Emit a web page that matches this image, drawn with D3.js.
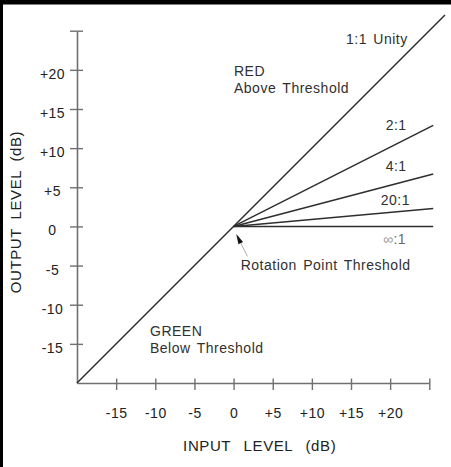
<!DOCTYPE html>
<html><head><meta charset="utf-8">
<script src="https://cdn.jsdelivr.net/npm/d3@7"></script>
<style>body{margin:0;background:#fff}svg{display:block}text{font-family:"Liberation Sans",Arial,Helvetica,sans-serif}</style>
</head><body><svg id="c" width="451" height="467"></svg>
<script>
// ---- data ----
const tickValues = [-15, -10, -5, 0, 5, 10, 15, 20, 25];
const tickLabels = ["-15", "-10", "-5", "0", "+5", "+10", "+15", "+20", ""];
const ratioLabels = ["2:1", "4:1", "20:1", ":1"];
const ratioOutputs = [12.9, 6.7, 2.3, 0];   // output level (dB) at line end
const lineEndInput = 25.5;                    // input level (dB) at line end
const unityLine = [[-20, -20], [27, 27]];
const thresholdPoint = [0, 0];

// ---- setup ----
const svg = d3.select("#c");
const x = d3.scaleLinear().domain([-20, 25]).range([77, 429.3]);
const y = d3.scaleLinear().domain([-20, 25]).range([383, 30.7]);
const axisColor = "#707070", inkColor = "#2e2e2e", textColor = "#303030";

// frame (top and left black edges)
svg.append("rect").attr("x", 0).attr("y", 0).attr("width", 451).attr("height", 4.5).attr("fill", "#000");
svg.append("rect").attr("x", 0).attr("y", 0).attr("width", 3).attr("height", 467).attr("fill", "#000");

// ---- axes ----
const gx = svg.append("g").attr("transform", `translate(0,${y(-20)})`)
  .call(d3.axisBottom(x).tickValues(tickValues).tickFormat((d, i) => tickLabels[i]).tickSizeOuter(0));
gx.attr("font-family", null).attr("font-size", null);
gx.select(".domain").attr("stroke", axisColor).attr("stroke-width", 1.6);
gx.selectAll(".tick line").attr("y1", -4.5).attr("y2", 7).attr("stroke", axisColor).attr("stroke-width", 1.4);
gx.selectAll(".tick text").attr("y", 35.3).attr("dy", 0).attr("font-size", 14)
  .attr("fill", "#222").attr("letter-spacing", 0.5);

const gy = svg.append("g").attr("transform", `translate(${x(-20)},0)`)
  .call(d3.axisLeft(y).tickValues(tickValues).tickFormat((d, i) => tickLabels[i]).tickSizeOuter(0));
gy.attr("font-family", null).attr("font-size", null);
gy.select(".domain").attr("stroke", axisColor).attr("stroke-width", 1.6);
gy.selectAll(".tick line").attr("x1", 6).attr("x2", -7).attr("stroke", axisColor).attr("stroke-width", 1.4);
gy.selectAll(".tick text").attr("x", -24.5).attr("text-anchor", "middle").attr("y", 8.5).attr("dy", 0)
  .attr("font-size", 14).attr("fill", "#222").attr("letter-spacing", 0.5);

// axis titles
svg.append("text").attr("x", 259.7).attr("y", 450.7).attr("text-anchor", "middle")
  .attr("font-size", 15).attr("letter-spacing", 0.6).attr("word-spacing", 8).attr("fill", "#222")
  .text("INPUT LEVEL (dB)");
svg.append("text").attr("transform", "translate(20.7,212) rotate(-90)").attr("text-anchor", "middle")
  .attr("font-size", 15).attr("letter-spacing", 0.6).attr("word-spacing", 4).attr("fill", "#222")
  .text("OUTPUT LEVEL (dB)");

// ---- lines ----
const line = d3.line().x(d => x(d[0])).y(d => y(d[1]));
svg.append("path").attr("d", line(unityLine)).attr("fill", "none")
  .attr("stroke", inkColor).attr("stroke-width", 1.5);
ratioOutputs.forEach(v => {
  svg.append("path").attr("d", line([thresholdPoint, [lineEndInput, v]])).attr("fill", "none")
    .attr("stroke", inkColor).attr("stroke-width", 1.5);
});

// ---- labels ----
function label(tx, ty, str, fill) {
  return svg.append("text").attr("x", tx).attr("y", ty).attr("font-size", 14)
    .attr("letter-spacing", 0.5).attr("word-spacing", 2).attr("fill", fill || textColor).text(str);
}
label(346, 44, "1:1 Unity");
const ratioPos = [[385.7, 130], [385.7, 170.7], [380.7, 205], [383, 244]];
ratioLabels.forEach((s, i) => {
  if (i === ratioLabels.length - 1) {
    const t = svg.append("text").attr("x", ratioPos[i][0]).attr("y", ratioPos[i][1]).attr("font-size", 14)
      .attr("letter-spacing", 0.5);
    t.append("tspan").attr("fill", "#9a9a9a").text("∞");
    t.append("tspan").attr("fill", "#6a6a6a").text(s);
  } else {
    label(ratioPos[i][0], ratioPos[i][1], s);
  }
});
label(234, 76.3, "RED");
label(234, 92.5, "Above Threshold");
label(150, 336.3, "GREEN");
label(150, 352.5, "Below Threshold");
label(240.7, 270, "Rotation Point Threshold");

// arrow pointing at rotation point
const tp = [x(thresholdPoint[0]) + 2.7, y(thresholdPoint[1]) + 7.7];
const ux = 0.447, uy = 0.894, hl = 10, hw = 2.6;
const bc = [tp[0] + ux * hl, tp[1] + uy * hl];
svg.append("path")
  .attr("d", `M${tp[0]},${tp[1]}L${bc[0] + uy * hw},${bc[1] - ux * hw}L${bc[0] - uy * hw},${bc[1] + ux * hw}Z`)
  .attr("fill", "#111");
svg.append("line").attr("x1", bc[0]).attr("y1", bc[1]).attr("x2", tp[0] + ux * 25).attr("y2", tp[1] + uy * 25)
  .attr("stroke", "#999").attr("stroke-width", 0.8);
</script></body></html>
